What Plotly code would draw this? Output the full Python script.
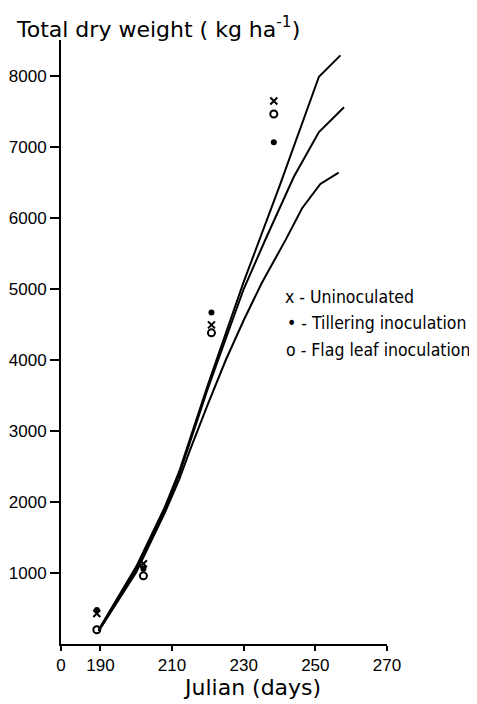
import plotly.graph_objects as go

# Simulated growth curves (Julian day, kg/ha)
top_days = [189.5, 200, 208, 212, 220, 230, 240, 251, 257]
top_vals = [200, 1090, 1930, 2430, 3650, 5100, 6450, 7990, 8290]

mid_days = [189.5, 200, 208, 212, 220, 230, 236, 244, 251, 258]
mid_vals = [190, 1050, 1890, 2390, 3600, 5000, 5690, 6580, 7210, 7560]

low_days = [189.5, 200, 208, 212, 215, 220, 225, 230, 235, 241.7, 246.3, 251.4, 256.5]
low_vals = [180, 1010, 1850, 2320, 2730, 3380, 4000, 4560, 5080, 5692, 6138, 6480, 6639]

# Observations
obs_days = [189, 202, 221, 238.4]
uninoculated = [430, 1130, 4495, 7648]
tillering = [480, 1060, 4669, 7067]
flag_leaf = [200, 960, 4383, 7465]

x_tick_vals = [179.0, 190, 210, 230, 250, 270]
x_tick_text = ["0", "190", "210", "230", "250", "270"]
y_tick_vals = [1000, 2000, 3000, 4000, 5000, 6000, 7000, 8000]

legend_labels = ["x - Uninoculated", "\u2022 - Tillering inoculation", "o - Flag leaf inoculation"]

fig = go.Figure()
for d, v in [(top_days, top_vals), (mid_days, mid_vals), (low_days, low_vals)]:
    fig.add_trace(go.Scatter(x=d, y=v, mode="lines", line=dict(color="black", width=2),
                             showlegend=False, hoverinfo="skip"))

fig.add_trace(go.Scatter(x=obs_days, y=uninoculated, mode="markers", name="Uninoculated",
                         marker=dict(symbol="x-thin", size=7, color="black",
                                     line=dict(color="black", width=2)),
                         showlegend=False))
fig.add_trace(go.Scatter(x=obs_days, y=tillering, mode="markers", name="Tillering inoculation",
                         marker=dict(symbol="circle", size=6, color="black"), showlegend=False))
fig.add_trace(go.Scatter(x=obs_days, y=flag_leaf, mode="markers", name="Flag leaf inoculation",
                         marker=dict(symbol="circle-open", size=7, color="black",
                                     line=dict(color="black", width=2)),
                         showlegend=False))

tick_font = dict(family="Liberation Sans, Arial, sans-serif", size=17, color="black")
legend_font = dict(family="DejaVu Sans Condensed, Liberation Sans, sans-serif",
                   size=17.5, color="black")

annotations = []
leg_y = [4890, 4525, 4145]
leg_x = [240.9, 241.4, 241.2]
for lab, lx, ly in zip(legend_labels, leg_x, leg_y):
    annotations.append(dict(x=lx, y=ly, xref="x", yref="y", text=lab, showarrow=False,
                            xanchor="left", yanchor="middle", font=legend_font))
annotations.append(dict(x=(252 - 61) / 326, y=-0.072, xref="paper", yref="paper",
                        text="Julian (days)", showarrow=False, xanchor="center", yanchor="middle",
                        font=dict(family="DejaVu Sans, sans-serif", size=22, color="black")))

# The page body has an 8px margin, so the figure is sized/offset to compensate.
fig.update_layout(
    width=469, height=696,
    margin=dict(l=53, r=90, t=32, b=60, autoexpand=False),
    paper_bgcolor="white", plot_bgcolor="white",
    title=dict(text="Total dry weight ( kg ha<sup>-1</sup>)", x=9/469, xanchor="left",
               y=1 - 21/696, yanchor="middle",
               font=dict(family="DejaVu Sans, sans-serif", size=22, color="black")),
    annotations=annotations,
)
fig.update_xaxes(range=[179.0, 270], tickvals=x_tick_vals, ticktext=x_tick_text, automargin=False,
                 showgrid=False, zeroline=False, showline=True, linecolor="black", linewidth=2,
                 ticks="outside", ticklen=5, tickwidth=1.5, tickcolor="black", tickfont=tick_font)
fig.update_yaxes(range=[0, 8507], tickvals=y_tick_vals, automargin=False,
                 showgrid=False, zeroline=False, showline=True, linecolor="black", linewidth=2,
                 ticks="outside", ticklen=9, tickwidth=1.5, tickcolor="black", tickfont=tick_font)

fig.write_html("out.html")
